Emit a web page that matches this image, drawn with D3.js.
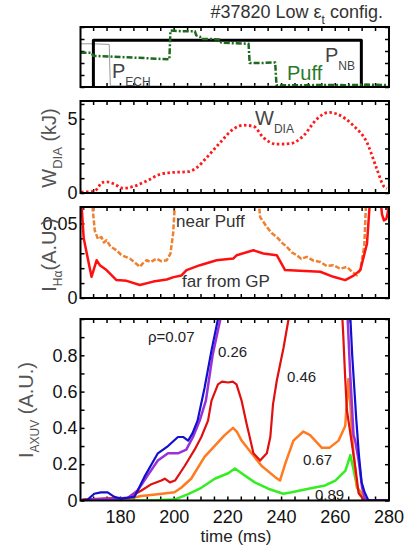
<!DOCTYPE html>
<html>
<head>
<meta charset="utf-8">
<script src="https://cdn.jsdelivr.net/npm/d3@7"></script>
<style>
  body { margin: 0; background: #fff; }
  text { font-family: "Liberation Sans", Arial, sans-serif; }
</style>
</head>
<body>
<div class="canvas"></div>
<script>
// ---- data ----
// top panel: gas puff, ECH and NB waveforms (arb. units)
const puffT = [165.3, 169.5, 170, 180, 190, 198.4, 198.8, 203, 207.9, 208.4, 209.8, 210.2, 214, 217.3, 217.7, 222, 227.9, 228.3, 233, 237.8, 238.3, 250, 258, 265, 272, 280.2];
const puffV = [0.57, 0.57, 0.52, 0.50, 0.48, 0.46, 0.94, 0.93, 0.93, 0.86, 0.84, 0.80, 0.80, 0.79, 0.74, 0.73, 0.72, 0.40, 0.40, 0.41, 0.03, 0.03, 0.035, 0.03, 0.04, 0.03];
const echT = [165.3, 170, 176.0, 176.4, 200, 280.2];
const echV = [0.72, 0.72, 0.71, 0.02, 0.015, 0.015];
const nbT = [170.1, 170.1, 269.9, 269.9];
const nbV = [0, 0.78, 0.78, 0];

// W_DIA (kJ)
const wdiaT = [165.5, 168, 170.6, 172, 173.1, 175, 176.5, 178, 181.2, 184.9, 189.9, 194.9, 198.6, 205.4, 208.6, 212.3, 217.3, 222.2, 226, 229.7, 233.4, 238.4, 243.4, 248.3, 253.3, 257.7, 260.8, 267, 272, 275.7, 278.2, 279.4];
const wdiaV = [0.05, 0.08, 0.13, 0.4, 0.7, 0.75, 0.7, 0.59, 0.32, 0.43, 0.81, 1.26, 1.37, 1.44, 1.71, 2.39, 3.4, 4.3, 4.57, 4.5, 3.74, 3.29, 3.33, 3.85, 4.98, 5.43, 5.32, 4.53, 3.4, 1.6, 0.47, 0.3];

// H-alpha (A.U.)
const farT = [165.4, 166.5, 169.4, 171.3, 172.5, 175, 178.7, 182.5, 187.4, 192.4, 197.4, 200, 202.9, 204.8, 209.8, 216, 222.2, 223.5, 229.7, 233.4, 238.4, 241.5, 247, 254.6, 259.5, 263.9, 267, 269.5, 272, 273.3, 276.8, 277.6, 278.3, 279.2, 279.8, 280.2];
const farV = [0.07, 0.04, 0.0142, 0.0253, 0.022, 0.0187, 0.012, 0.0115, 0.0087, 0.011, 0.0124, 0.014, 0.0151, 0.0187, 0.022, 0.0253, 0.0264, 0.0287, 0.032, 0.0298, 0.0287, 0.0187, 0.0182, 0.0176, 0.0142, 0.012, 0.015, 0.0187, 0.0364, 0.07, 0.07, 0.056, 0.052, 0.053, 0.058, 0.07];
const nearT = [168.8, 170.6, 171.8, 173.1, 174, 175, 176.5, 178.7, 180.5, 183.7, 185.5, 187.4, 188.5, 189.9, 191.5, 193.6, 195.5, 197.4, 198.8, 199.8, 201, 230.9, 232.2, 234.7, 236.5, 238.4, 240.5, 242.2, 244, 245.9, 247.5, 249.6, 252, 254.6, 257, 259.5, 262, 264.5, 266.5, 268.2, 269.5, 271, 272];
const nearV = [0.08, 0.0453, 0.0395, 0.0409, 0.0372, 0.0387, 0.0345, 0.032, 0.0288, 0.0264, 0.0238, 0.0209, 0.0232, 0.0253, 0.0241, 0.0264, 0.0246, 0.0253, 0.0298, 0.0431, 0.08, 0.08, 0.0542, 0.0476, 0.0435, 0.0409, 0.0368, 0.0342, 0.0305, 0.0287, 0.0262, 0.0276, 0.0251, 0.0242, 0.0214, 0.022, 0.0196, 0.0209, 0.0175, 0.0153, 0.019, 0.035, 0.08];

// AXUV (A.U.) by normalised radius
const blueT = [165.3, 168, 170.4, 172.9, 175.4, 177.9, 180.4, 185.4, 189.1, 194.1, 197.9, 201.6, 203.5, 205.4, 207, 208.9, 211.5, 214, 216.5, 218, 265.5, 266.5, 268, 269, 270, 271, 272.5, 280.2];
const blueV = [0, 0.005, 0.037, 0.045, 0.045, 0.02, 0.01, 0.02, 0.13, 0.26, 0.3, 0.35, 0.35, 0.33, 0.37, 0.44, 0.62, 0.82, 1.0, 1.1, 1.1, 0.8, 0.45, 0.25, 0.1, 0.05, 0, 0];
const purpleT = [168, 177.9, 183, 186.6, 190.4, 194.1, 197.9, 201.6, 204.7, 207.2, 209.7, 212, 214.5, 217.4, 218.5, 264.5, 265.7, 267, 267.6, 268.9, 270.2, 271.4, 280.2];
const purpleV = [0.005, 0.01, 0.015, 0.055, 0.14, 0.22, 0.26, 0.26, 0.28, 0.35, 0.44, 0.55, 0.8, 1.0, 1.1, 1.1, 0.71, 0.36, 0.33, 0.22, 0.07, 0, 0];
const redT = [166, 175, 183, 188, 191.7, 195.4, 196.7, 198.6, 200.5, 204.1, 207.8, 210.3, 212.8, 214.1, 216.5, 218, 220.3, 222, 223.4, 225.3, 227.2, 228, 229.7, 232.2, 234.7, 236, 237, 238.4, 240.9, 242.8, 243.5, 262.5, 263.2, 263.8, 264.5, 265.5, 266.5, 267.5, 268.9, 270.8, 272.5, 280.2];
const redV = [0.005, 0.012, 0.015, 0.055, 0.09, 0.11, 0.12, 0.1, 0.11, 0.19, 0.28, 0.35, 0.44, 0.55, 0.64, 0.655, 0.65, 0.655, 0.64, 0.55, 0.42, 0.37, 0.26, 0.22, 0.26, 0.35, 0.53, 0.66, 0.84, 1.0, 1.1, 1.1, 0.9, 0.7, 0.5, 0.4, 0.3, 0.2, 0.04, 0.005, 0, 0];
const orangeT = [166, 177.9, 183, 188, 194.1, 200.3, 202.8, 206.5, 211.5, 215.2, 219, 222.1, 223.5, 225.3, 229, 232.8, 237.7, 239.6, 241.5, 244.6, 248.3, 250.8, 255.2, 258, 261.4, 263.9, 265.1, 265.8, 266.4, 267, 268.3, 269.5, 271.4, 273, 280.2];
const orangeV = [0.005, 0.003, 0.01, 0.025, 0.035, 0.045, 0.07, 0.12, 0.24, 0.3, 0.36, 0.4, 0.38, 0.33, 0.26, 0.19, 0.13, 0.11, 0.2, 0.33, 0.38, 0.36, 0.29, 0.29, 0.33, 0.41, 0.67, 0.53, 0.37, 0.26, 0.07, 0.05, 0.01, 0, 0];
const greenT = [165.3, 190, 200.3, 205.4, 210.3, 215.3, 220.3, 222.8, 225.3, 230.2, 235.2, 240.8, 244, 250.2, 256.4, 260.2, 264, 265.8, 267, 268.3, 269.5, 271.4, 280.2];
const greenV = [0, 0, 0.005, 0.035, 0.07, 0.12, 0.15, 0.176, 0.15, 0.1, 0.065, 0.037, 0.045, 0.065, 0.083, 0.11, 0.165, 0.25, 0.17, 0.074, 0.028, 0, 0];

const timeTicks = [180, 200, 220, 240, 260, 280];

// ---- layout ----
const W = 406, H = 547;
const left = 80.5, right = 389;

const svg = d3.select('.canvas').append('svg')
  .attr('width', W)
  .attr('height', H);

const x = d3.scaleLinear().domain([165.3, 280.2]).range([left, right]);

const zip = (ts, vs) => ts.map((t, i) => [t, vs[i]]);

// one framed panel with inward ticks on all sides
function panel(id, top, bottom, yDomain, yStep, yLabels, showX) {
  const y = d3.scaleLinear().domain(yDomain).range([bottom, top]);
  const g = svg.append('g');

  g.append('clipPath').attr('id', id)
    .append('rect')
    .attr('x', left).attr('y', top)
    .attr('width', right - left).attr('height', bottom - top);

  const xt = d3.range(170, 281, 5);
  const yt = d3.range(yDomain[0], yDomain[1] + 1e-9, yStep);

  const fmtY = v => {
    const hit = yLabels.find(l => Math.abs(l - v) < 1e-9);
    return hit === undefined ? '' : (hit === 0 ? '0' : String(hit));
  };

  g.append('g').attr('transform', `translate(0,${bottom})`)
    .call(d3.axisBottom(x).tickValues(xt).tickSize(-4).tickPadding(10)
      .tickFormat(d => showX && timeTicks.includes(d) ? d : ''));
  g.append('g').attr('transform', `translate(0,${top})`)
    .call(d3.axisTop(x).tickValues(xt).tickSize(-4).tickFormat(''));
  g.append('g').attr('transform', `translate(${left},0)`)
    .call(d3.axisLeft(y).tickValues(yt).tickSize(-4).tickPadding(3).tickFormat(fmtY));
  g.append('g').attr('transform', `translate(${right},0)`)
    .call(d3.axisRight(y).tickValues(yt).tickSize(-4).tickFormat(''));

  g.selectAll('.domain').remove();
  g.selectAll('.tick line').attr('stroke', '#000').attr('stroke-width', 1.5);
  g.selectAll('.tick text')
    .attr('fill', '#111')
    .style('font-size', '18px')
    .style('font-family', '"Liberation Sans", Arial, sans-serif');

  const plot = g.append('g').attr('clip-path', `url(#${id})`);

  g.append('rect')
    .attr('x', left).attr('y', top)
    .attr('width', right - left).attr('height', bottom - top)
    .attr('fill', 'none').attr('stroke', '#000').attr('stroke-width', 2);

  return { y, plot, g };
}

function drawLine(p, data, color, width, dash, curve) {
  const line = d3.line()
    .x(d => x(d[0]))
    .y(d => p.y(d[1]))
    .curve(curve || d3.curveLinear);
  p.plot.append('path')
    .datum(data)
    .attr('d', line)
    .attr('fill', 'none')
    .attr('stroke', color)
    .attr('stroke-width', width)
    .attr('stroke-linejoin', 'round')
    .attr('stroke-dasharray', dash || null);
}

function yLabel(cx, cy, main, sub, rest, subSize) {
  const t = svg.append('text')
    .attr('transform', `translate(${cx},${cy}) rotate(-90)`)
    .attr('text-anchor', 'middle')
    .attr('fill', '#555')
    .style('font-size', '20px');
  t.append('tspan').text(main);
  t.append('tspan').attr('dy', 6).style('font-size', subSize + 'px').text(sub);
  t.append('tspan').attr('dy', -6).text(rest);
}

// ---- title ----
const title = svg.append('text')
  .attr('x', 383).attr('y', 18)
  .attr('text-anchor', 'end')
  .attr('fill', '#333')
  .style('font-size', '18px');
title.append('tspan').text('#37820 Low \u03b5');
title.append('tspan').attr('dy', 6).style('font-size', '12px').text('t');
title.append('tspan').attr('dy', -6).text(' config.');

// ---- panel 1: waveforms ----
const p1 = panel('c1', 27, 87, [0, 1], 0.2, [], false);
drawLine(p1, zip(echT, echV), '#999', 1);
drawLine(p1, zip(nbT, nbV), '#000', 3);
drawLine(p1, zip(puffT, puffV), '#1e6a1e', 2.5, '6,2,2,2');

const pech = svg.append('text').attr('x', 112).attr('y', 78).attr('fill', '#444').style('font-size', '20px');
pech.append('tspan').text('P');
pech.append('tspan').attr('dy', 8).style('font-size', '12px').text('ECH');
svg.append('text').attr('x', 287).attr('y', 80).attr('fill', '#2a7a2a').style('font-size', '20px').text('Puff');
const pnb = svg.append('text').attr('x', 325).attr('y', 62).attr('fill', '#444').style('font-size', '20px');
pnb.append('tspan').text('P');
pnb.append('tspan').attr('dy', 8).style('font-size', '12px').text('NB');

// ---- panel 2: stored energy ----
const p2 = panel('c2', 101, 193, [0, 6.2], 1, [0, 5], false);
drawLine(p2, zip(wdiaT, wdiaV), '#ff1a1a', 2.8, '2.5,2.5', d3.curveMonotoneX);
yLabel(56, 148, 'W', 'DIA', ' (kJ)', 13);
const wl = svg.append('text').attr('x', 255).attr('y', 125).attr('fill', '#444').style('font-size', '20px');
wl.append('tspan').text('W');
wl.append('tspan').attr('dy', 8).style('font-size', '12px').text('DIA');

// ---- panel 3: H-alpha ----
const p3 = panel('c3', 207, 298, [0, 0.061], 0.01, [0, 0.05], false);
drawLine(p3, zip(nearT, nearV), '#f08030', 2.5, '5,2');
drawLine(p3, zip(farT, farV), '#ff1010', 2.5);
yLabel(56, 255, 'I', 'H\u03b1', '(A.U.)', 12);
svg.append('text').attr('x', 176).attr('y', 227).attr('fill', '#333').style('font-size', '17px').text('near Puff');
svg.append('text').attr('x', 182).attr('y', 287).attr('fill', '#333').style('font-size', '17px').text('far from GP');

// ---- panel 4: AXUV ----
const p4 = panel('c4', 319, 500.5, [0, 1.0], 0.1, [0, 0.2, 0.4, 0.6, 0.8], true);
drawLine(p4, zip(greenT, greenV), '#33ee22', 2.5);
drawLine(p4, zip(orangeT, orangeV), '#ff7a20', 2.5);
drawLine(p4, zip(redT, redV), '#e01010', 2.2);
drawLine(p4, zip(purpleT, purpleV), '#9a30d8', 2.5);
drawLine(p4, zip(blueT, blueV), '#1010d0', 2.2);
yLabel(33, 410, 'I', 'AXUV', ' (A.U.)', 12);

const rhoLabels = [['\u03c1=0.07', 148, 342], ['0.26', 218, 357], ['0.46', 287, 382], ['0.67', 303, 465], ['0.89', 315, 500]];
svg.selectAll('.rho').data(rhoLabels).enter().append('text')
  .attr('class', 'rho')
  .attr('x', d => d[1]).attr('y', d => d[2])
  .attr('fill', '#222')
  .style('font-size', '15px')
  .text(d => d[0]);

svg.append('text').attr('x', 236).attr('y', 542)
  .attr('text-anchor', 'middle').attr('fill', '#222')
  .style('font-size', '17px').text('time (ms)');
</script>
</body>
</html>
